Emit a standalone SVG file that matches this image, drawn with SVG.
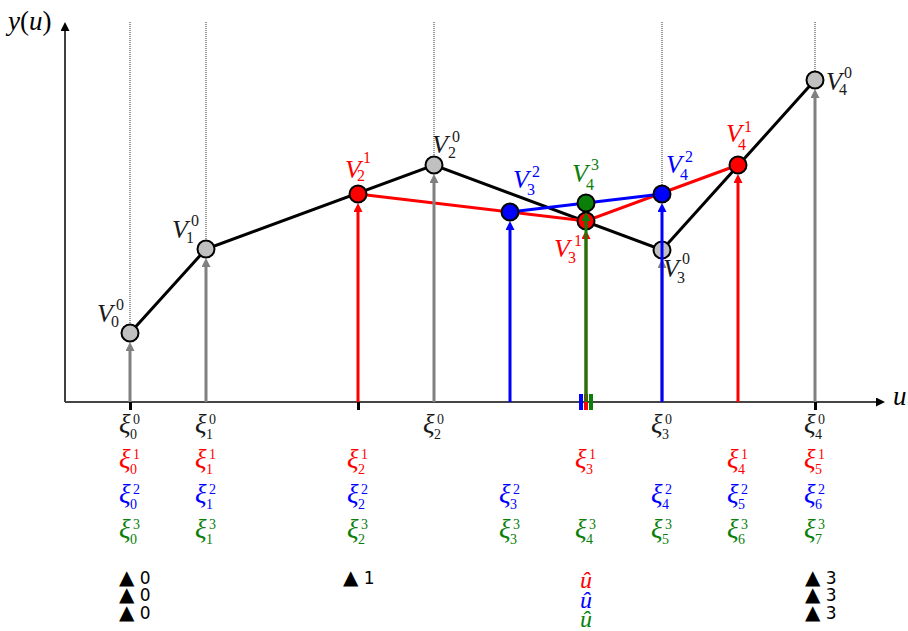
<svg xmlns="http://www.w3.org/2000/svg" width="908" height="631" viewBox="0 0 908 631">
<style>
.v{font-family:"Liberation Serif",serif;font-style:italic;font-size:26px}
.d{font-family:"Liberation Serif",serif;font-size:16px}
.xi{font-family:"Liberation Serif",serif;font-style:italic;font-size:27px}
.xd{font-family:"Liberation Serif",serif;font-size:14px}
.tri{font-family:"DejaVu Sans",sans-serif;font-size:17px;fill:#000}
.tr{font-size:20px}
.uh{font-family:"Liberation Serif",serif;font-style:italic;font-size:24px;text-anchor:middle}
.k{fill:#1a1a1a}.r{fill:#ff0000}.b{fill:#0000ff}.g{fill:#0a800a}
.dot{stroke:#333;stroke-width:1;stroke-dasharray:1 1;fill:none}
.node{stroke:#000;stroke-width:2}
.arr{stroke-width:3;fill:none}
</style>
<defs>
<marker id="ak" viewBox="0 0 10 10" refX="0" refY="5" markerWidth="9" markerHeight="9" markerUnits="userSpaceOnUse" orient="auto"><path d="M0,0 L10,5 L0,10 z" fill="#000"/></marker>
<marker id="agr" viewBox="0 0 10 10" refX="0" refY="5" markerWidth="9" markerHeight="9" markerUnits="userSpaceOnUse" orient="auto"><path d="M0,0 L10,5 L0,10 z" fill="#808080"/></marker>
<marker id="ar" viewBox="0 0 10 10" refX="0" refY="5" markerWidth="9" markerHeight="9" markerUnits="userSpaceOnUse" orient="auto"><path d="M0,0 L10,5 L0,10 z" fill="#ff0000"/></marker>
<marker id="ab" viewBox="0 0 10 10" refX="0" refY="5" markerWidth="9" markerHeight="9" markerUnits="userSpaceOnUse" orient="auto"><path d="M0,0 L10,5 L0,10 z" fill="#0000ff"/></marker>
<marker id="ag" viewBox="0 0 10 10" refX="0" refY="5" markerWidth="9" markerHeight="9" markerUnits="userSpaceOnUse" orient="auto"><path d="M0,0 L10,5 L0,10 z" fill="#0a800a"/></marker>
</defs>
<rect width="908" height="631" fill="#fff"/>

<g id="axes">
<line x1="65" y1="402" x2="65" y2="31" stroke="#000" stroke-width="1.5" marker-end="url(#ak)"/>
<line x1="65" y1="402" x2="876" y2="402" stroke="#444" stroke-width="1.8" marker-end="url(#ak)"/>
<text x="8" y="30" style="font-family:'Liberation Serif',serif;font-size:27px"><tspan font-style="italic">y</tspan>(<tspan font-style="italic">u</tspan>)</text>
<text x="893" y="405" class="v" style="font-size:27px">u</text>
</g>

<g id="guides">
<line class="dot" x1="130" y1="22" x2="130" y2="324"/>
<line class="dot" x1="206" y1="22" x2="206" y2="240"/>
<line class="dot" x1="434" y1="22" x2="434" y2="156"/>
<line class="dot" x1="662" y1="22" x2="662" y2="185"/>
<line class="dot" x1="815" y1="22" x2="815" y2="71"/>
</g>

<g id="connectors">
<polyline points="130,333 206,249 434,165 662,250 815,80" fill="none" stroke="#000" stroke-width="3"/>
<polyline points="358,194 586,221 738,165" fill="none" stroke="#ff0000" stroke-width="3"/>
<polyline points="510,212 662,194" fill="none" stroke="#0000ff" stroke-width="3"/>
<line class="arr" stroke="#808080" x1="130" y1="402" x2="130" y2="351" marker-end="url(#agr)"/>
<line class="arr" stroke="#808080" x1="206" y1="402" x2="206" y2="267" marker-end="url(#agr)"/>
<line class="arr" stroke="#808080" x1="434" y1="402" x2="434" y2="183" marker-end="url(#agr)"/>
<line class="arr" stroke="#808080" x1="662" y1="402" x2="662" y2="268" marker-end="url(#agr)"/>
<line class="arr" stroke="#808080" x1="815" y1="402" x2="815" y2="98" marker-end="url(#agr)"/>
<line class="arr" stroke="#ff0000" x1="358" y1="402" x2="358" y2="212" marker-end="url(#ar)"/>
<line class="arr" stroke="#ff0000" x1="586" y1="402" x2="586" y2="239" marker-end="url(#ar)"/>
<line class="arr" stroke="#ff0000" x1="738" y1="402" x2="738" y2="183" marker-end="url(#ar)"/>
<line class="arr" stroke="#0000ff" x1="510" y1="402" x2="510" y2="230" marker-end="url(#ab)"/>
<rect x="129" y="402" width="3" height="8" fill="#000"/>
<rect x="357" y="402" width="3" height="8" fill="#000"/>
<rect x="814" y="402" width="3" height="8" fill="#000"/>
<rect x="579" y="394" width="4" height="16" fill="#0000ff"/>
<rect x="584" y="394" width="4" height="16" fill="#ff0000"/>
<rect x="589" y="394" width="4" height="16" fill="#0a800a"/>
</g>

<g id="V0_0"><circle class="node" cx="130" cy="333" r="8.5" fill="#c0c0c0"/><text class="v k" x="97" y="322">V</text><text class="d k" x="116" y="310">0</text><text class="d k" x="111" y="327">0</text></g>
<g id="V1_0"><circle class="node" cx="206" cy="249" r="8.5" fill="#c0c0c0"/><text class="v k" x="172" y="238">V</text><text class="d k" x="191" y="226">0</text><text class="d k" x="186" y="243">1</text></g>
<g id="V2_0"><circle class="node" cx="434" cy="165" r="8.5" fill="#c0c0c0"/><text class="v k" x="432" y="153">V</text><text class="d k" x="452" y="142">0</text><text class="d k" x="448" y="158">2</text></g>
<g id="V3_0"><circle class="node" cx="662" cy="250" r="8.5" fill="#c0c0c0"/><text class="v k" x="663" y="277">V</text><text class="d k" x="682" y="264">0</text><text class="d k" x="677" y="283">3</text></g>
<g id="V4_0"><circle class="node" cx="815" cy="80" r="8.5" fill="#c0c0c0"/><text class="v k" x="826" y="90">V</text><text class="d k" x="844" y="78">0</text><text class="d k" x="839" y="95">4</text></g>
<g id="V2_1"><circle class="node" cx="358" cy="194" r="8.5" fill="#ff0000"/><text class="v r" x="345" y="178">V</text><text class="d r" x="363" y="163">1</text><text class="d r" x="357" y="181">2</text></g>
<g id="V3_1"><circle class="node" cx="586" cy="221" r="8.5" fill="#ff0000"/><text class="v r" x="554" y="257">V</text><text class="d r" x="574" y="246">1</text><text class="d r" x="568" y="263">3</text></g>
<g id="V4_1"><circle class="node" cx="738" cy="165" r="8.5" fill="#ff0000"/><text class="v r" x="726" y="142">V</text><text class="d r" x="744" y="132">1</text><text class="d r" x="738" y="150">4</text></g>
<g id="V4_3_arrow"><line class="arr" stroke="#0000ff" x1="662" y1="402" x2="662" y2="212" marker-end="url(#ab)"/><line class="arr" stroke="#0a800a" x1="586" y1="402" x2="586" y2="221" marker-end="url(#ag)"/></g>
<g id="V3_2"><circle class="node" cx="510" cy="212" r="8.5" fill="#0000ff"/><text class="v b" x="513" y="188">V</text><text class="d b" x="532" y="177">2</text><text class="d b" x="527" y="195">3</text></g>
<g id="V4_2"><circle class="node" cx="662" cy="194" r="8.5" fill="#0000ff"/><text class="v b" x="666" y="173">V</text><text class="d b" x="685" y="162">2</text><text class="d b" x="680" y="180">4</text></g>
<g id="V4_3"><circle class="node" cx="586" cy="203" r="8.5" fill="#0a800a"/><text class="v g" x="572" y="182">V</text><text class="d g" x="591" y="170">3</text><text class="d g" x="586" y="190">4</text></g>

<g id="knots">
<text class="xi k" x="119" y="433">ξ</text><text class="xd k" x="133" y="424">0</text><text class="xd k" x="130" y="439">0</text>
<text class="xi k" x="195" y="433">ξ</text><text class="xd k" x="209" y="424">0</text><text class="xd k" x="206" y="439">1</text>
<text class="xi k" x="423" y="433">ξ</text><text class="xd k" x="437" y="424">0</text><text class="xd k" x="434" y="439">2</text>
<text class="xi k" x="651" y="433">ξ</text><text class="xd k" x="665" y="424">0</text><text class="xd k" x="662" y="439">3</text>
<text class="xi k" x="804" y="433">ξ</text><text class="xd k" x="818" y="424">0</text><text class="xd k" x="815" y="439">4</text>

<text class="xi r" x="119" y="468">ξ</text><text class="xd r" x="133" y="459">1</text><text class="xd r" x="130" y="474">0</text>
<text class="xi r" x="195" y="468">ξ</text><text class="xd r" x="209" y="459">1</text><text class="xd r" x="206" y="474">1</text>
<text class="xi r" x="347" y="468">ξ</text><text class="xd r" x="361" y="459">1</text><text class="xd r" x="358" y="474">2</text>
<text class="xi r" x="575" y="468">ξ</text><text class="xd r" x="589" y="459">1</text><text class="xd r" x="586" y="474">3</text>
<text class="xi r" x="727" y="468">ξ</text><text class="xd r" x="741" y="459">1</text><text class="xd r" x="738" y="474">4</text>
<text class="xi r" x="804" y="468">ξ</text><text class="xd r" x="818" y="459">1</text><text class="xd r" x="815" y="474">5</text>

<text class="xi b" x="119" y="503">ξ</text><text class="xd b" x="133" y="494">2</text><text class="xd b" x="130" y="509">0</text>
<text class="xi b" x="195" y="503">ξ</text><text class="xd b" x="209" y="494">2</text><text class="xd b" x="206" y="509">1</text>
<text class="xi b" x="347" y="503">ξ</text><text class="xd b" x="361" y="494">2</text><text class="xd b" x="358" y="509">2</text>
<text class="xi b" x="499" y="503">ξ</text><text class="xd b" x="513" y="494">2</text><text class="xd b" x="510" y="509">3</text>
<text class="xi b" x="651" y="503">ξ</text><text class="xd b" x="665" y="494">2</text><text class="xd b" x="662" y="509">4</text>
<text class="xi b" x="727" y="503">ξ</text><text class="xd b" x="741" y="494">2</text><text class="xd b" x="738" y="509">5</text>
<text class="xi b" x="804" y="503">ξ</text><text class="xd b" x="818" y="494">2</text><text class="xd b" x="815" y="509">6</text>

<text class="xi g" x="119" y="538">ξ</text><text class="xd g" x="133" y="529">3</text><text class="xd g" x="130" y="544">0</text>
<text class="xi g" x="195" y="538">ξ</text><text class="xd g" x="209" y="529">3</text><text class="xd g" x="206" y="544">1</text>
<text class="xi g" x="347" y="538">ξ</text><text class="xd g" x="361" y="529">3</text><text class="xd g" x="358" y="544">2</text>
<text class="xi g" x="499" y="538">ξ</text><text class="xd g" x="513" y="529">3</text><text class="xd g" x="510" y="544">3</text>
<text class="xi g" x="575" y="538">ξ</text><text class="xd g" x="589" y="529">3</text><text class="xd g" x="586" y="544">4</text>
<text class="xi g" x="651" y="538">ξ</text><text class="xd g" x="665" y="529">3</text><text class="xd g" x="662" y="544">5</text>
<text class="xi g" x="727" y="538">ξ</text><text class="xd g" x="741" y="529">3</text><text class="xd g" x="738" y="544">6</text>
<text class="xi g" x="804" y="538">ξ</text><text class="xd g" x="818" y="529">3</text><text class="xd g" x="815" y="544">7</text>
</g>

<g id="multiplicity">
<text class="tri" x="119" y="584"><tspan class="tr">▲</tspan> 0</text>
<text class="tri" x="119" y="601"><tspan class="tr">▲</tspan> 0</text>
<text class="tri" x="119" y="619"><tspan class="tr">▲</tspan> 0</text>
<text class="tri" x="343" y="584"><tspan class="tr">▲</tspan> 1</text>
<text class="tri" x="805" y="584"><tspan class="tr">▲</tspan> 3</text>
<text class="tri" x="805" y="601"><tspan class="tr">▲</tspan> 3</text>
<text class="tri" x="805" y="619"><tspan class="tr">▲</tspan> 3</text>
<text class="uh r" x="586" y="588">û</text>
<text class="uh b" x="586" y="608">û</text>
<text class="uh g" x="586" y="627">û</text>
</g>
</svg>
